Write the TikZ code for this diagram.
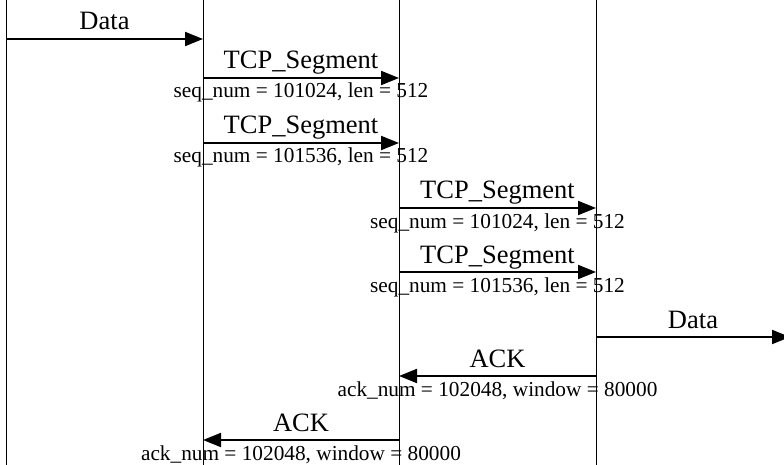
\documentclass[tikz,border=0pt]{standalone}
\usepackage{fontspec}
\setmainfont{Liberation Serif}
\usetikzlibrary{arrows.meta}

\begin{document}
\begin{tikzpicture}[
    x=1pt, y=-1pt,
    >={Triangle[length=18pt, width=14pt]},
    lifeline/.style={draw, line width=1pt},
    msg/.style={draw, ->, line width=2pt},
    toplabel/.style={anchor=base, inner sep=0pt, yshift=9pt, font=\fontsize{26.5}{30}\selectfont},
    botlabel/.style={anchor=base, inner sep=0pt, yshift=-20pt, font=\fontsize{21.3}{24}\selectfont}
]

\clip (0,0) rectangle (784,465);

% lifelines
\foreach \name/\x in {a/6, b/203, c/399, d/596} {
    \coordinate (\name-top) at (\x,0);
    \coordinate (\name-bot) at (\x,465);
    \draw[lifeline] (\name-top) -- (\name-bot);
}
\coordinate (e-top) at (790,0);

% message ends
\foreach \from/\to/\y/\name in {a/b/39/data1, b/c/78/seg1, b/c/143/seg2, c/d/208/seg3,
    c/d/272/seg4, d/e/337/data2, d/c/376/ack1, c/b/440/ack2} {
    \coordinate (\name-s) at (\from-top |- 0,\y);
    \coordinate (\name-e) at (\to-top |- 0,\y);
}

% messages
\draw[msg] (data1-s) -- node[toplabel] (data1-lbl) {Data} (data1-e);
\draw[msg] (seg1-s) -- node[toplabel] (seg1-lbl) {TCP\_Segment}
    node[botlabel] (seg1-info) {seq\_num = 101024, len = 512} (seg1-e);
\draw[msg] (seg2-s) -- node[toplabel] (seg2-lbl) {TCP\_Segment}
    node[botlabel] (seg2-info) {seq\_num = 101536, len = 512} (seg2-e);
\draw[msg] (seg3-s) -- node[toplabel] (seg3-lbl) {TCP\_Segment}
    node[botlabel] (seg3-info) {seq\_num = 101024, len = 512} (seg3-e);
\draw[msg] (seg4-s) -- node[toplabel] (seg4-lbl) {TCP\_Segment}
    node[botlabel] (seg4-info) {seq\_num = 101536, len = 512} (seg4-e);
\draw[msg] (data2-s) -- node[toplabel] (data2-lbl) {Data} (data2-e);
\draw[msg] (ack1-s) -- node[toplabel] (ack1-lbl) {ACK}
    node[botlabel] (ack1-info) {ack\_num = 102048, window = 80000} (ack1-e);
\draw[msg] (ack2-s) -- node[toplabel] (ack2-lbl) {ACK}
    node[botlabel] (ack2-info) {ack\_num = 102048, window = 80000} (ack2-e);

\end{tikzpicture}
\end{document}
